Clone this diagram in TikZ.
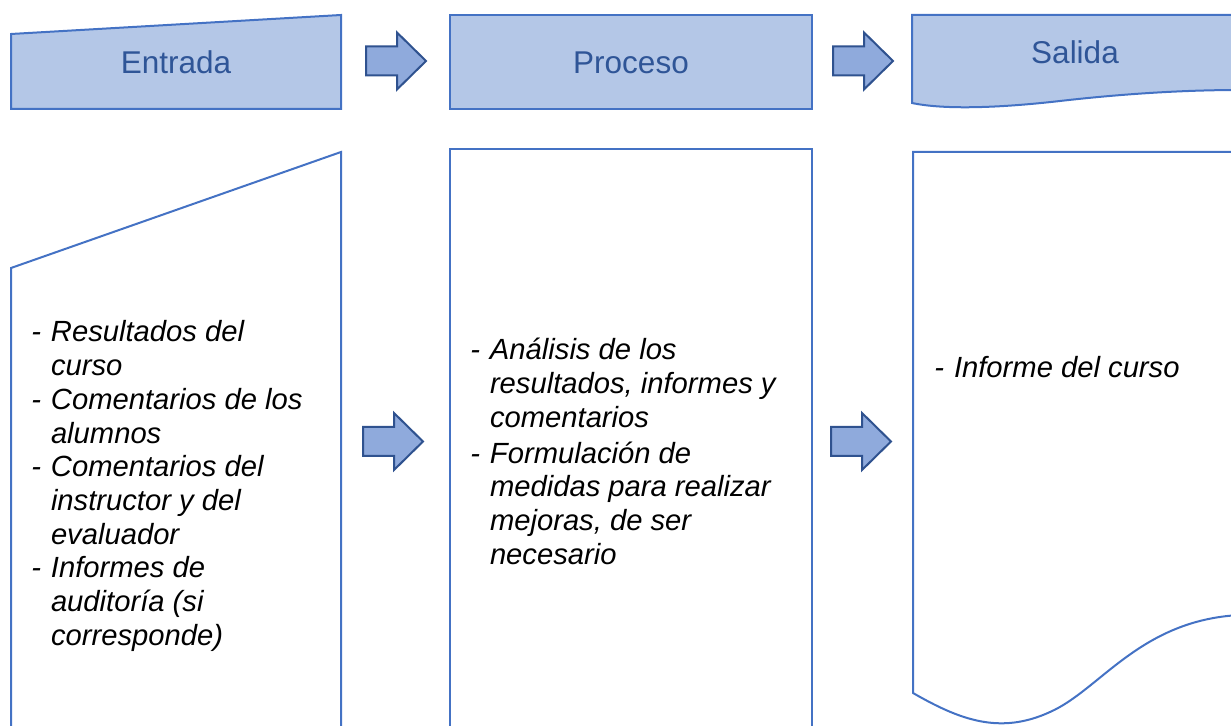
\documentclass[tikz,border=0pt]{standalone}
\usepackage{fontspec}
\setmainfont{Liberation Sans}
\definecolor{boxfill}{HTML}{B4C7E7}
\definecolor{boxline}{HTML}{4472C4}
\definecolor{arrowfill}{HTML}{8FAADC}
\definecolor{arrowline}{HTML}{2F528F}
\definecolor{headblue}{HTML}{2F5597}
\newcommand{\flecha}[2]{\draw[blockarrow] (#1,#2-14.5) -- (#1+31,#2-14.5) -- (#1+31,#2-28.5) -- (#1+60,#2) -- (#1+31,#2+28.5) -- (#1+31,#2+14.5) -- (#1,#2+14.5) -- cycle;}
\begin{document}
\begin{tikzpicture}[x=0.5pt,y=-0.5pt,
    box/.style={draw=boxline,line width=1pt,fill=boxfill,line join=miter},
    frame/.style={draw=boxline,line width=1pt,line join=miter},
    blockarrow/.style={draw=arrowline,line width=1pt,fill=arrowfill,line join=miter},
    head/.style={text=headblue,font=\fontsize{15.75}{19}\selectfont,inner sep=0pt,anchor=base},
    body/.style={font=\fontsize{14.6}{16.85}\selectfont\itshape,inner sep=0pt,anchor=base west}]
    \useasboundingbox (0,0) rectangle (1231,726);
    \clip (0,0) rectangle (1231,726);

    % Header shapes
    \draw[box] (11,34) -- (341,15) -- (341,109) -- (11,109) -- cycle;
    \draw[box] (450,15) rectangle (812,109);
    \draw[box] (912,15) -- (1240,15) -- (1240,90) .. controls (1190,90) and (1130,93) .. (1060,101)
        .. controls (990,109) and (940,109) .. (912,103) -- cycle;

    % Header labels
    \node[head] (entrada) at (176,74) {Entrada};
    \node[head] (proceso) at (631,74) {Proceso};
    \node[head] (salida) at (1075,64) {Salida};

    % Arrows between columns
    \flecha{366}{61}
    \flecha{833}{61}
    \flecha{363}{441.5}
    \flecha{831}{441.5}

    % Body shapes
    \draw[frame] (11,268) -- (341,152) -- (341,740) -- (11,740) -- cycle;
    \draw[frame] (450,149) rectangle (812,740);
    \draw[frame] (913,152) -- (1240,152) -- (1240,615) .. controls (1140,620) and (1100,690) .. (1050,712)
        .. controls (1000,735) and (960,720) .. (913,693) -- cycle;

    % Body texts
    \node[body] (entradaTxt) at (31,342) {\begin{tabular}[t]{@{}p{9.8pt}@{}l@{}}
        - & Resultados del\\ & curso\\
        - & Comentarios de los\\ & alumnos\\
        - & Comentarios del\\ & instructor y del\\ & evaluador\\
        - & Informes de\\ & auditoría (si\\ & corresponde)
        \end{tabular}};
    \node[body] (procesoTxt) at (470,360) {\begin{tabular}[t]{@{}p{9.8pt}@{}l@{}}
        - & Análisis de los\\ & resultados, informes y\\ & comentarios\\[1pt]
        - & Formulación de\\ & medidas para realizar\\ & mejoras, de ser\\ & necesario
        \end{tabular}};
    \node[body] (salidaTxt) at (934,378) {\begin{tabular}[t]{@{}p{9.8pt}@{}l@{}}
        - & Informe del curso
        \end{tabular}};
\end{tikzpicture}
\end{document}
